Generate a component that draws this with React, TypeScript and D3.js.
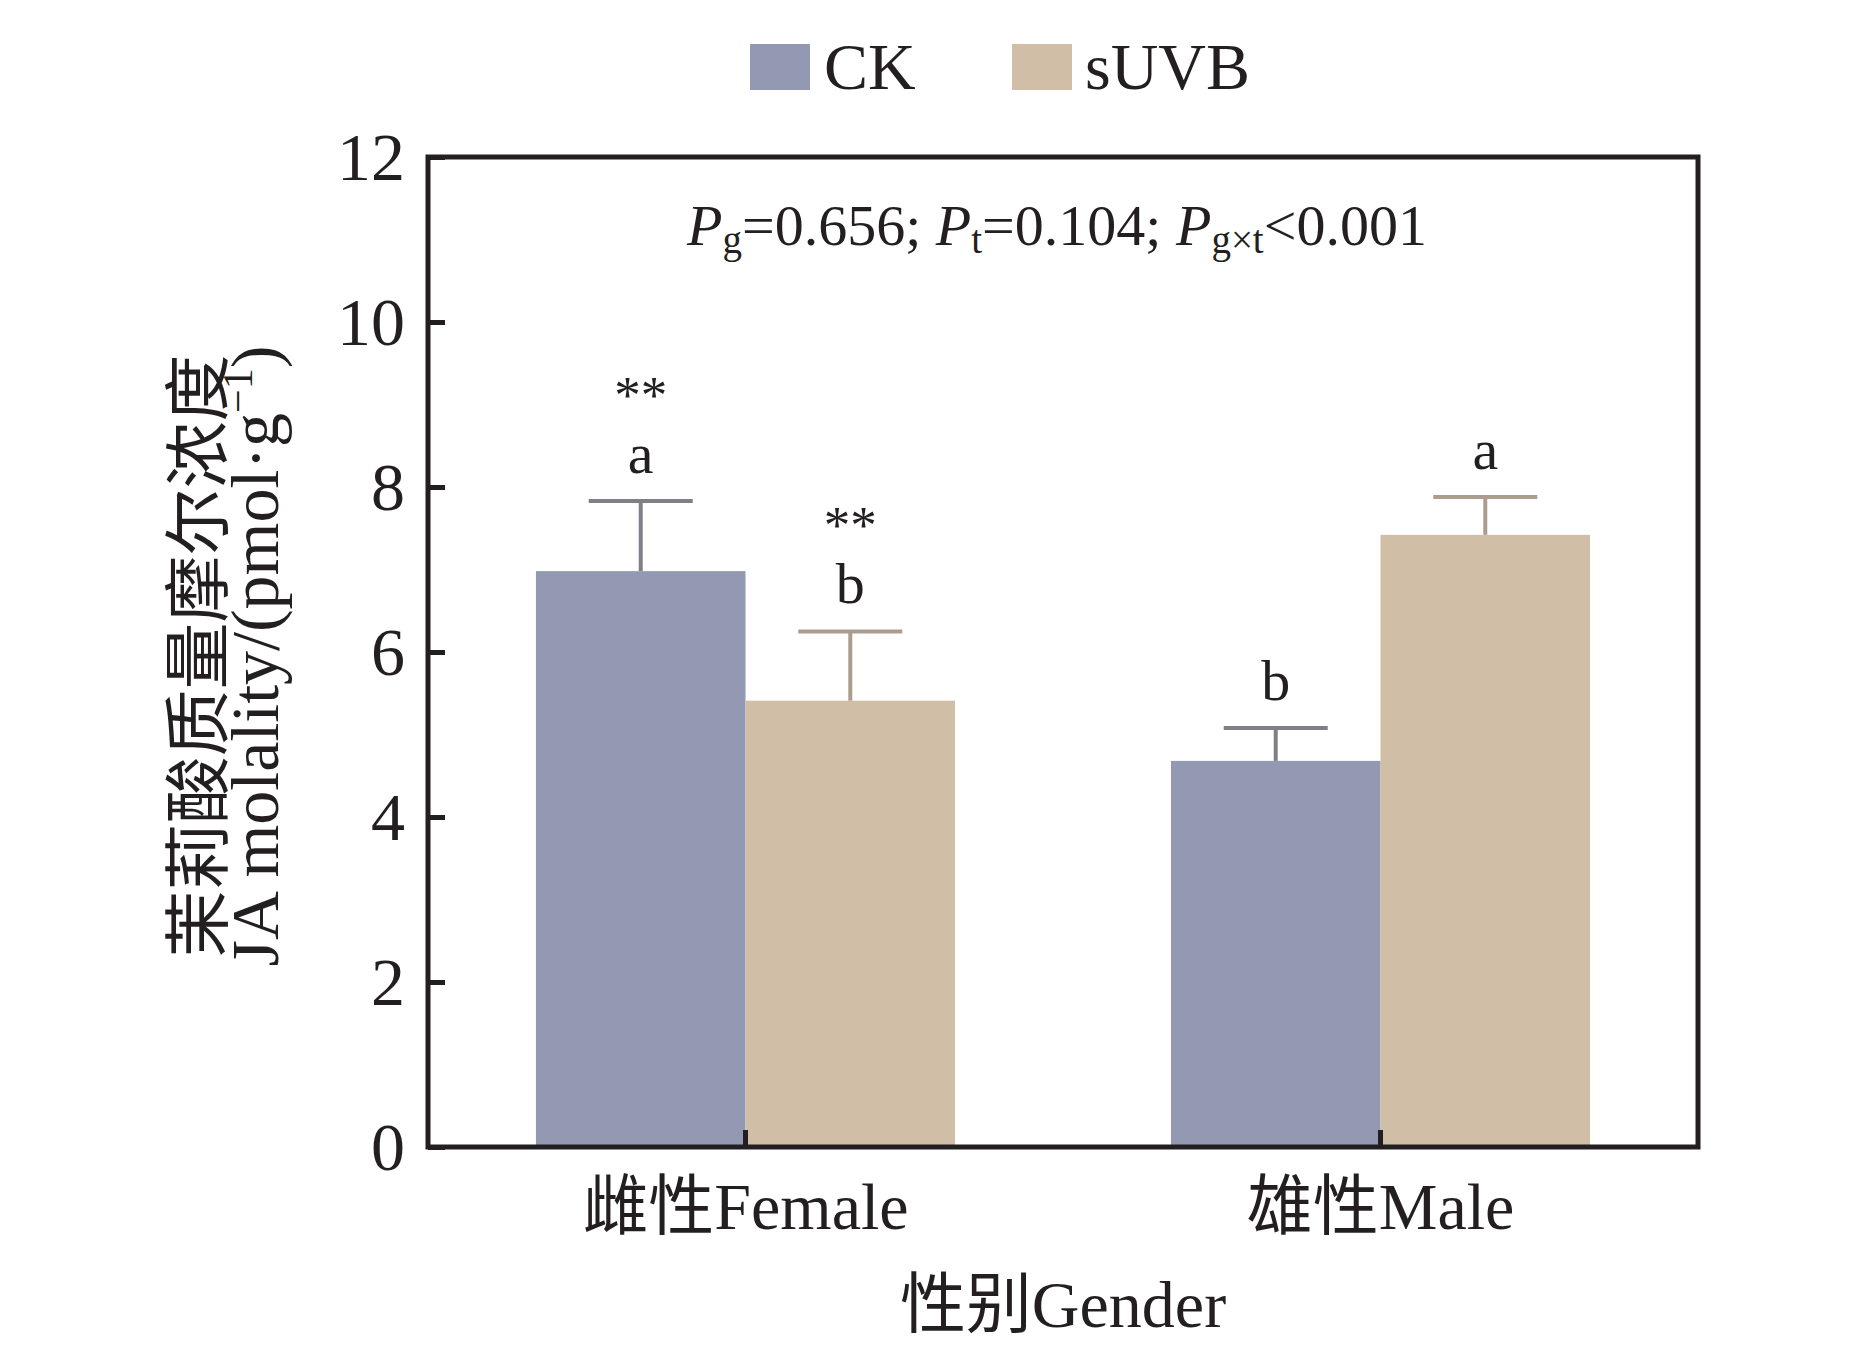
import React, { useEffect, useRef } from "react";
import * as d3 from "d3";

const categories = ["雌性Female", "雄性Male"];
const series = ["CK", "sUVB"];
const ckMeans = [6.98, 4.68];
const ckErrors = [0.85, 0.4];
const uvbMeans = [5.41, 7.42];
const uvbErrors = [0.84, 0.46];
const ckLetters = ["a", "b"];
const uvbLetters = ["b", "a"];
const ckStars = ["**", ""];
const uvbStars = ["**", ""];
const yTicks = [0, 2, 4, 6, 8, 10, 12];

const WIDTH = 1866;
const HEIGHT = 1370;
const FONT = "'Liberation Serif', 'Times New Roman', 'Noto Sans CJK SC', serif";
const INK = "#231f20";

const fills: Record<string, string> = { CK: "#9499b3", sUVB: "#d0bea6" };
const errColors: Record<string, string> = { CK: "#7f7f87", sUVB: "#ab9d8e" };

export default function App() {
  const svgRef = useRef<SVGSVGElement>(null);

  useEffect(() => {
    if (!svgRef.current) return;
    const svg = d3.select(svgRef.current);
    svg.selectAll("*").remove();

    const margin = { top: 157, right: 168, bottom: 223, left: 428 };
    const x0 = margin.left;
    const x1 = WIDTH - margin.right;
    const yTop = margin.top;
    const yBottom = HEIGHT - margin.bottom;

    const x = d3.scaleBand<string>().domain(categories).range([x0, x1]).paddingInner(0.34).paddingOuter(0.17);
    const xs = d3.scaleBand<string>().domain(series).range([0, x.bandwidth()]);
    const y = d3.scaleLinear().domain([0, 12]).range([yBottom, yTop]);

    const rows = categories.flatMap((c, i) => [
      { cat: c, s: "CK", mean: ckMeans[i], err: ckErrors[i], letter: ckLetters[i], stars: ckStars[i] },
      { cat: c, s: "sUVB", mean: uvbMeans[i], err: uvbErrors[i], letter: uvbLetters[i], stars: uvbStars[i] },
    ]);

    // bars
    svg
      .append("g")
      .selectAll("rect")
      .data(rows)
      .join("rect")
      .attr("x", (d) => (x(d.cat) || 0) + (xs(d.s) || 0))
      .attr("width", xs.bandwidth())
      .attr("y", (d) => y(d.mean))
      .attr("height", (d) => y(0) - y(d.mean))
      .attr("fill", (d) => fills[d.s]);

    // error bars (upper only)
    const capHalf = 52;
    const eb = svg.append("g").selectAll("g").data(rows).join("g");
    const cx = (d: (typeof rows)[number]) => (x(d.cat) || 0) + (xs(d.s) || 0) + xs.bandwidth() / 2;
    eb.append("line")
      .attr("x1", cx)
      .attr("x2", cx)
      .attr("y1", (d) => y(d.mean))
      .attr("y2", (d) => y(d.mean + d.err))
      .attr("stroke", (d) => errColors[d.s])
      .attr("stroke-width", 4);
    eb.append("line")
      .attr("x1", (d) => cx(d) - capHalf)
      .attr("x2", (d) => cx(d) + capHalf)
      .attr("y1", (d) => y(d.mean + d.err))
      .attr("y2", (d) => y(d.mean + d.err))
      .attr("stroke", (d) => errColors[d.s])
      .attr("stroke-width", 4);

    // significance letter, with stars above it
    eb.append("text")
      .attr("x", cx)
      .attr("y", (d) => y(d.mean + d.err) - 28)
      .attr("text-anchor", "middle")
      .attr("font-family", FONT)
      .attr("font-size", 58)
      .attr("fill", INK)
      .text((d) => d.letter);
    eb.filter((d) => d.stars !== "")
      .append("text")
      .attr("x", cx)
      .attr("y", (d) => y(d.mean + d.err) - 88)
      .attr("text-anchor", "middle")
      .attr("font-family", FONT)
      .attr("font-size", 53)
      .attr("fill", INK)
      .text((d) => d.stars);

    // frame
    svg
      .append("rect")
      .attr("x", x0)
      .attr("y", yTop)
      .attr("width", x1 - x0)
      .attr("height", yBottom - yTop)
      .attr("fill", "none")
      .attr("stroke", INK)
      .attr("stroke-width", 5);

    // y axis
    const yAxis = svg
      .append("g")
      .attr("transform", `translate(${x0},0)`)
      .call(d3.axisLeft(y).tickValues(yTicks).tickSizeInner(-17).tickSizeOuter(0).tickPadding(23));
    yAxis.select(".domain").remove();
    yAxis.selectAll("line").attr("stroke", INK).attr("stroke-width", 5);
    yAxis
      .selectAll("text")
      .attr("font-family", FONT)
      .attr("font-size", 68)
      .attr("fill", INK)
      .attr("dy", "0.33em");

    // x axis
    const xAxis = svg
      .append("g")
      .attr("transform", `translate(0,${yBottom})`)
      .call(d3.axisBottom(x).tickSizeInner(-17).tickSizeOuter(0).tickPadding(35));
    xAxis.select(".domain").remove();
    xAxis.selectAll("line").attr("stroke", INK).attr("stroke-width", 5);
    xAxis.selectAll("text").attr("font-family", FONT).attr("font-size", 66).attr("fill", INK);

    // x title
    svg
      .append("text")
      .attr("x", (x0 + x1) / 2)
      .attr("y", 1327)
      .attr("text-anchor", "middle")
      .attr("font-family", FONT)
      .attr("font-size", 66)
      .attr("fill", INK)
      .text("性别Gender");

    // y title, two lines
    const yMid = (yTop + yBottom) / 2 + 4;
    svg
      .append("text")
      .attr("transform", `translate(222,${yMid}) rotate(-90)`)
      .attr("text-anchor", "middle")
      .attr("font-family", FONT)
      .attr("font-size", 67)
      .attr("fill", INK)
      .text("茉莉酸质量摩尔浓度");
    const yt = svg
      .append("text")
      .attr("transform", `translate(278,${yMid}) rotate(-90)`)
      .attr("text-anchor", "middle")
      .attr("font-family", FONT)
      .attr("font-size", 68)
      .attr("fill", INK);
    yt.append("tspan").text("JA molality/(pmol·g");
    yt.append("tspan").attr("font-size", 42).attr("dy", -26).text("−1");
    yt.append("tspan").attr("dy", 26).text(")");

    // P values
    const pt = svg
      .append("text")
      .attr("x", (x0 + x1) / 2 - 6)
      .attr("y", 245)
      .attr("text-anchor", "middle")
      .attr("font-family", FONT)
      .attr("font-size", 58)
      .attr("fill", INK);
    const pParts: [string, string, string][] = [
      ["P", "g", "=0.656; "],
      ["P", "t", "=0.104; "],
      ["P", "g×t", "<0.001"],
    ];
    pParts.forEach(([p, sub, rest]) => {
      pt.append("tspan").attr("font-style", "italic").text(p);
      pt.append("tspan").attr("font-size", 39).attr("dy", 8).text(sub);
      pt.append("tspan").attr("dy", -8).text(rest);
    });

    // legend
    const legendItems = [
      { s: "CK", sx: 750, tx: 824 },
      { s: "sUVB", sx: 1012, tx: 1085 },
    ];
    const lg = svg.append("g");
    lg.selectAll("rect")
      .data(legendItems)
      .join("rect")
      .attr("x", (d) => d.sx)
      .attr("y", 44)
      .attr("width", 60)
      .attr("height", 46)
      .attr("fill", (d) => fills[d.s]);
    lg.selectAll("text")
      .data(legendItems)
      .join("text")
      .attr("x", (d) => d.tx)
      .attr("y", 89)
      .attr("font-family", FONT)
      .attr("font-size", 66)
      .attr("fill", INK)
      .text((d) => d.s);
  }, []);

  return (
    <svg
      ref={svgRef}
      width={WIDTH}
      height={HEIGHT}
      style={{ position: "absolute", left: 0, top: 0, background: "#fff" }}
    />
  );
}
